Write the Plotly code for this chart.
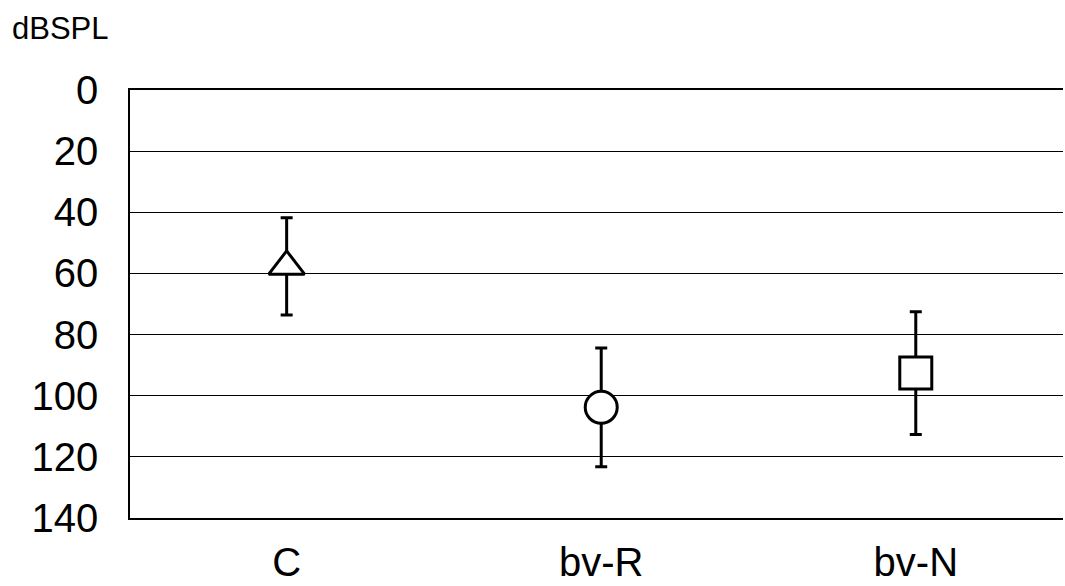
import plotly.graph_objects as go

categories = ["C", "bv-R", "bv-N"]
means = [57.7, 103.8, 92.6]
errors = [15.9, 19.4, 20.1]
symbols = ["triangle-up", "circle", "square"]
sizes = [31, 32, 32]
y_ticks = [0, 20, 40, 60, 80, 100, 120, 140]
y_title = "dBSPL"

font_family = "Liberation Sans, Arial, sans-serif"

fig = go.Figure()
for i, cat in enumerate(categories):
    fig.add_trace(go.Scatter(
        x=[i], y=[means[i]], mode="markers", name=cat,
        marker=dict(symbol=symbols[i], size=sizes[i], color="white",
                    line=dict(color="black", width=3)),
        error_y=dict(type="data", array=[errors[i]], visible=True,
                     color="black", thickness=3, width=6),
        showlegend=False,
    ))

fig.update_layout(
    width=1065, height=586,
    margin=dict(l=130, r=2, t=90, b=62),
    paper_bgcolor="white", plot_bgcolor="white",
    font=dict(family=font_family, color="black"),
    xaxis=dict(
        range=[-0.498, 2.468], tickvals=list(range(len(categories))),
        ticktext=categories, showgrid=False, zeroline=False,
        showline=True, linecolor="black", linewidth=1.5, mirror=True,
        ticks="", tickfont=dict(size=40), ticklabelstandoff=8,
    ),
    yaxis=dict(
        range=[140, 0], tickvals=y_ticks, showgrid=True, gridcolor="black",
        gridwidth=1.2, zeroline=False, showline=True, linecolor="black",
        linewidth=1.5, ticks="", tickfont=dict(size=40), ticklabelstandoff=22,
    ),
    annotations=[dict(
        text=y_title, xref="paper", yref="paper",
        x=-120 / 933, y=1 + 62 / 434, xanchor="left", yanchor="middle",
        showarrow=False, font=dict(size=31, color="black"),
    )],
)

fig.write_html(
    "out.html",
    config={"displayModeBar": False},
    post_script="document.body.style.margin='0';document.body.style.overflow='hidden';",
)
